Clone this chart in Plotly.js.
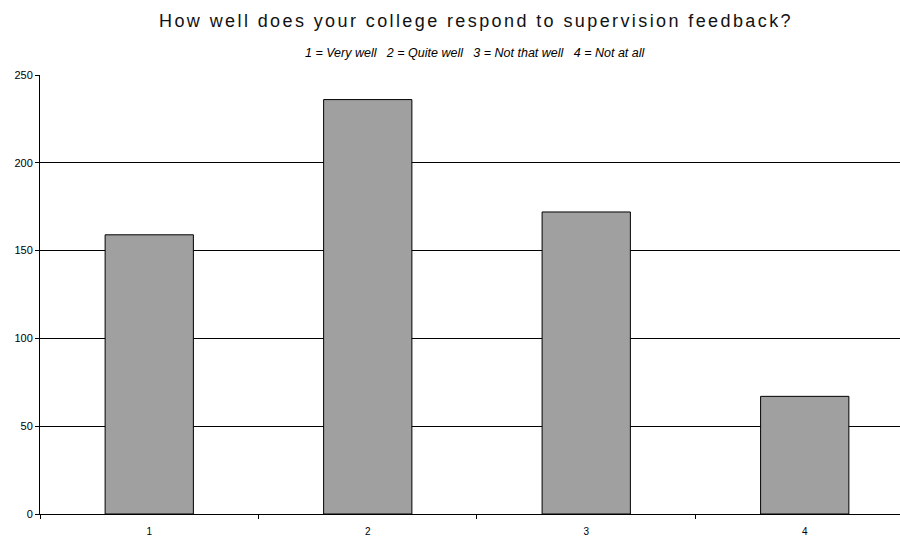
<!DOCTYPE html>
<html>
<head>
<meta charset="utf-8">
<script src="https://cdn.plot.ly/plotly-3.0.1.min.js"></script>
<style>
html,body{margin:0;padding:0;background:#fff;overflow:hidden;}
#chart{width:900px;height:537px;}
.gtitle{letter-spacing:2.4px;}
</style>
</head>
<body>
<div id="chart"></div>
<script>
const categories = ["1", "2", "3", "4"];
const counts = [159, 236, 172, 67];
const yTicks = [0, 50, 100, 150, 200, 250];
const titleText = "How well does your college respond to supervision feedback?";
const subtitleText = "1 = Very well&nbsp;&nbsp; 2 = Quite well&nbsp;&nbsp; 3 = Not that well&nbsp;&nbsp; 4 = Not at all";

const trace = {
  type: "bar",
  x: categories,
  y: counts,
  marker: {color: "#a0a0a0", line: {color: "#000000", width: 1}},
  hoverinfo: "none"
};

const layout = {
  width: 900,
  height: 537,
  margin: {l: 40, r: 0, t: 75, b: 23},
  paper_bgcolor: "#ffffff",
  plot_bgcolor: "#ffffff",
  showlegend: false,
  bargap: 0.596,
  font: {family: "Liberation Sans, Arial, sans-serif", color: "#000"},
  title: {
    text: titleText,
    font: {family: "Liberation Sans, Arial, sans-serif", size: 18, color: "#111"},
    x: 0.507, xanchor: "center", xref: "paper",
    y: 1, yref: "container", yanchor: "top", pad: {t: 14}
  },
  annotations: [{
    text: subtitleText,
    xref: "paper", yref: "paper", x: 0.5, y: 1, xanchor: "center", yanchor: "bottom",
    xshift: 5, yshift: 13,
    showarrow: false,
    font: {family: "Liberation Sans Narrow, Arial Narrow, Liberation Sans, sans-serif", size: 12.5, color: "#000", style: "italic"}
  }],
  xaxis: {
    type: "category",
    range: [-0.5, 3.436],
    showline: true, linecolor: "#000", linewidth: 1,
    ticks: "outside", ticklen: 4, tickcolor: "#000", tickwidth: 1,
    tickson: "boundaries",
    ticklabelstandoff: 8,
    showgrid: false, zeroline: false,
    tickfont: {size: 10, color: "#000"},
    fixedrange: true
  },
  yaxis: {
    range: [0, 250],
    tickvals: yTicks,
    showline: true, linecolor: "#000", linewidth: 1,
    ticks: "outside", ticklen: 4, tickcolor: "#000",
    showgrid: true, gridcolor: "#000", gridwidth: 1,
    zeroline: false,
    tickfont: {size: 11, color: "#000"},
    fixedrange: true
  }
};

Plotly.newPlot("chart", [trace], layout, {staticPlot: true, displayModeBar: false});
</script>
</body>
</html>
